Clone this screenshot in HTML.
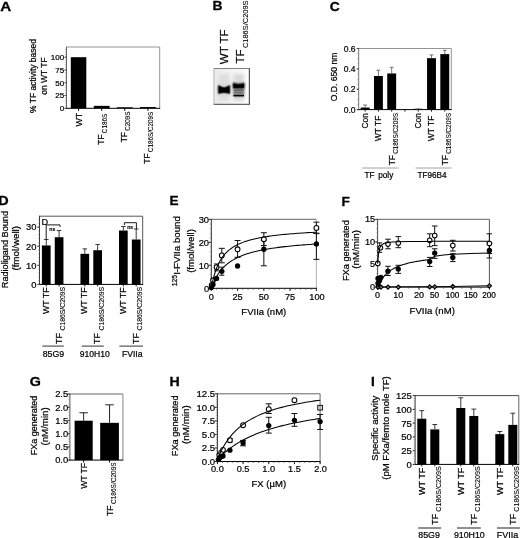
<!DOCTYPE html>
<html><head><meta charset="utf-8"><title>Figure</title>
<style>html,body{margin:0;padding:0;background:#fff;overflow:hidden}svg{display:block}svg text{font-family:"Liberation Sans",sans-serif}</style>
</head><body>
<svg width="520" height="538" viewBox="0 0 520 538" font-family="'Liberation Sans', sans-serif">
<rect width="520" height="538" fill="#fff"/>
<text transform="translate(0.20,10.60) scale(1.12,1)" font-size="13.6" font-weight="bold" fill="#000" stroke="#000" stroke-width="0.3">A</text>
<text transform="translate(212.60,10.00) scale(1.02,1)" font-size="13.6" font-weight="bold" fill="#000" stroke="#000" stroke-width="0.3">B</text>
<text transform="translate(329.80,10.60) scale(1.02,1)" font-size="13.6" font-weight="bold" fill="#000" stroke="#000" stroke-width="0.3">C</text>
<text transform="translate(-1.80,204.90) scale(1.06,1)" font-size="13.6" font-weight="bold" fill="#000" stroke="#000" stroke-width="0.3">D</text>
<text transform="translate(169.40,205.10) scale(1.0,1)" font-size="13.6" font-weight="bold" fill="#000" stroke="#000" stroke-width="0.3">E</text>
<text transform="translate(341.60,205.50) scale(1.0,1)" font-size="13.6" font-weight="bold" fill="#000" stroke="#000" stroke-width="0.3">F</text>
<text transform="translate(29.80,385.90) scale(1.05,1)" font-size="13.6" font-weight="bold" fill="#000" stroke="#000" stroke-width="0.3">G</text>
<text transform="translate(169.60,385.90) scale(1.04,1)" font-size="13.6" font-weight="bold" fill="#000" stroke="#000" stroke-width="0.3">H</text>
<text transform="translate(371.00,385.50) scale(1.0,1)" font-size="13.6" font-weight="bold" fill="#000" stroke="#000" stroke-width="0.3">I</text>
<line x1="66.50" y1="47.00" x2="159.70" y2="47.00" stroke="#888" stroke-width="0.9" />
<line x1="159.70" y1="47.00" x2="159.70" y2="108.30" stroke="#888" stroke-width="0.9" />
<line x1="66.50" y1="46.55" x2="66.50" y2="108.80" stroke="#555" stroke-width="0.9" />
<line x1="66.05" y1="108.30" x2="160.15" y2="108.30" stroke="#000" stroke-width="1.0" />
<line x1="64.50" y1="108.30" x2="66.50" y2="108.30" stroke="#222" stroke-width="1" />
<text x="64.20" y="111.18" font-size="8" text-anchor="end" font-weight="normal" fill="#000" stroke="#000" stroke-width="0.22">0</text>
<line x1="64.50" y1="95.53" x2="66.50" y2="95.53" stroke="#222" stroke-width="1" />
<text x="64.20" y="98.41" font-size="8" text-anchor="end" font-weight="normal" fill="#000" stroke="#000" stroke-width="0.22">25</text>
<line x1="64.50" y1="82.75" x2="66.50" y2="82.75" stroke="#222" stroke-width="1" />
<text x="64.20" y="85.63" font-size="8" text-anchor="end" font-weight="normal" fill="#000" stroke="#000" stroke-width="0.22">50</text>
<line x1="64.50" y1="69.97" x2="66.50" y2="69.97" stroke="#222" stroke-width="1" />
<text x="64.20" y="72.85" font-size="8" text-anchor="end" font-weight="normal" fill="#000" stroke="#000" stroke-width="0.22">75</text>
<line x1="64.50" y1="57.20" x2="66.50" y2="57.20" stroke="#222" stroke-width="1" />
<text x="64.20" y="60.08" font-size="8" text-anchor="end" font-weight="normal" fill="#000" stroke="#000" stroke-width="0.22">100</text>
<line x1="65.10" y1="108.30" x2="66.50" y2="108.30" stroke="#777" stroke-width="0.6" />
<line x1="65.10" y1="105.75" x2="66.50" y2="105.75" stroke="#777" stroke-width="0.6" />
<line x1="65.10" y1="103.19" x2="66.50" y2="103.19" stroke="#777" stroke-width="0.6" />
<line x1="65.10" y1="100.64" x2="66.50" y2="100.64" stroke="#777" stroke-width="0.6" />
<line x1="65.10" y1="98.08" x2="66.50" y2="98.08" stroke="#777" stroke-width="0.6" />
<line x1="65.10" y1="95.53" x2="66.50" y2="95.53" stroke="#777" stroke-width="0.6" />
<line x1="65.10" y1="92.97" x2="66.50" y2="92.97" stroke="#777" stroke-width="0.6" />
<line x1="65.10" y1="90.41" x2="66.50" y2="90.41" stroke="#777" stroke-width="0.6" />
<line x1="65.10" y1="87.86" x2="66.50" y2="87.86" stroke="#777" stroke-width="0.6" />
<line x1="65.10" y1="85.31" x2="66.50" y2="85.31" stroke="#777" stroke-width="0.6" />
<line x1="65.10" y1="82.75" x2="66.50" y2="82.75" stroke="#777" stroke-width="0.6" />
<line x1="65.10" y1="80.20" x2="66.50" y2="80.20" stroke="#777" stroke-width="0.6" />
<line x1="65.10" y1="77.64" x2="66.50" y2="77.64" stroke="#777" stroke-width="0.6" />
<line x1="65.10" y1="75.09" x2="66.50" y2="75.09" stroke="#777" stroke-width="0.6" />
<line x1="65.10" y1="72.53" x2="66.50" y2="72.53" stroke="#777" stroke-width="0.6" />
<line x1="65.10" y1="69.97" x2="66.50" y2="69.97" stroke="#777" stroke-width="0.6" />
<line x1="65.10" y1="67.42" x2="66.50" y2="67.42" stroke="#777" stroke-width="0.6" />
<line x1="65.10" y1="64.87" x2="66.50" y2="64.87" stroke="#777" stroke-width="0.6" />
<line x1="65.10" y1="62.31" x2="66.50" y2="62.31" stroke="#777" stroke-width="0.6" />
<line x1="65.10" y1="59.76" x2="66.50" y2="59.76" stroke="#777" stroke-width="0.6" />
<line x1="65.10" y1="57.20" x2="66.50" y2="57.20" stroke="#777" stroke-width="0.6" />
<line x1="65.10" y1="54.65" x2="66.50" y2="54.65" stroke="#777" stroke-width="0.6" />
<line x1="65.10" y1="52.09" x2="66.50" y2="52.09" stroke="#777" stroke-width="0.6" />
<line x1="65.10" y1="49.54" x2="66.50" y2="49.54" stroke="#777" stroke-width="0.6" />
<rect x="70.80" y="57.20" width="15.50" height="51.10" fill="#000" />
<line x1="78.55" y1="108.30" x2="78.55" y2="110.80" stroke="#000" stroke-width="1" />
<rect x="93.80" y="105.85" width="15.80" height="2.45" fill="#000" />
<line x1="101.70" y1="108.30" x2="101.70" y2="110.80" stroke="#000" stroke-width="1" />
<rect x="116.80" y="107.30" width="15.90" height="1.00" fill="#000" />
<line x1="124.75" y1="108.30" x2="124.75" y2="110.80" stroke="#000" stroke-width="1" />
<rect x="140.00" y="107.07" width="15.80" height="1.23" fill="#000" />
<line x1="147.90" y1="108.30" x2="147.90" y2="110.80" stroke="#000" stroke-width="1" />
<text transform="translate(81.50,112.80) rotate(-90)" font-size="8.8" text-anchor="end" fill="#000" stroke="#000" stroke-width="0.22">WT</text>
<text transform="translate(104.40,113.90) rotate(-90)" font-size="8.5" text-anchor="end" fill="#000" stroke="#000" stroke-width="0.22">TF<tspan font-size="6.3" dy="2.8" dx="1.2" stroke-width="0.1">C186S</tspan></text>
<text transform="translate(127.30,111.50) rotate(-90)" font-size="8.5" text-anchor="end" fill="#000" stroke="#000" stroke-width="0.22">TF<tspan font-size="6.3" dy="2.8" dx="1.2" stroke-width="0.1">C209S</tspan></text>
<text transform="translate(150.40,111.80) rotate(-90)" font-size="8.5" text-anchor="end" fill="#000" stroke="#000" stroke-width="0.22">TF<tspan font-size="6.3" dy="2.8" dx="1.2" stroke-width="0.1">C186S/C209S</tspan></text>
<text transform="translate(36.30,76.00) rotate(-90)" font-size="8.5" text-anchor="middle" fill="#000" stroke="#000" stroke-width="0.22">% TF activity based</text>
<text transform="translate(46.60,76.00) rotate(-90)" font-size="8.5" text-anchor="middle" fill="#000" stroke="#000" stroke-width="0.22">on WT TF</text>
<text transform="translate(227.70,64.30) rotate(-90)" font-size="11.6" text-anchor="start" fill="#000" stroke="#000" stroke-width="0.22">WT TF</text>
<text transform="translate(244.10,63.50) rotate(-90)" font-size="11.6" text-anchor="start" fill="#000" stroke="#000" stroke-width="0.22">TF<tspan font-size="7.45" dy="3.7" dx="1.3" stroke-width="0.1">C186S/C209S</tspan></text>
<defs>
<filter id="b1" x="-30%" y="-30%" width="160%" height="160%"><feGaussianBlur stdDeviation="0.9"/></filter>
<filter id="b2" x="-30%" y="-30%" width="160%" height="160%"><feGaussianBlur stdDeviation="0.6"/></filter>
<filter id="b3" x="-30%" y="-30%" width="160%" height="160%"><feGaussianBlur stdDeviation="1.6"/></filter>
<linearGradient id="gel" x1="0" x2="1" y1="0" y2="0"><stop offset="0" stop-color="#e9e9e9"/><stop offset="0.5" stop-color="#f3f3f3"/><stop offset="1" stop-color="#fcfcfc"/></linearGradient>
<clipPath id="gelc"><rect x="213.7" y="68.5" width="35.7" height="36"/></clipPath>
</defs>
<rect x="213.70" y="68.50" width="35.70" height="36.00" fill="url(#gel)" />
<g clip-path="url(#gelc)">
<rect x="219" y="74" width="10.5" height="27" fill="#dedede" filter="url(#b3)"/>
<rect x="233.5" y="74" width="10.5" height="27" fill="#dadada" filter="url(#b3)"/>
<path d="M218.2,84.8 Q224,90.6 229.9,84.8 L229.9,94 Q224,90.8 218.2,94 Z" fill="#000" filter="url(#b1)"/>
<path d="M218.6,85.6 Q224,89.8 229.6,85.6 L229.6,93.4 Q224,91.6 218.6,93.4 Z" fill="#000" filter="url(#b2)"/>
<rect x="233.2" y="83.4" width="11" height="13" fill="#8a8a8a" filter="url(#b1)"/>
<path d="M233,82.6 Q238.6,86 244.3,82.6 L244.3,88.2 L233,88.2 Z" fill="#000" filter="url(#b1)"/>
<path d="M233.4,83.4 Q238.6,85.6 244,83.4 L244,87.8 L233.4,87.8 Z" fill="#000" filter="url(#b2)"/>
<rect x="233.8" y="89.8" width="10" height="1.0" fill="#5a5a5a" filter="url(#b2)"/>
<rect x="233.8" y="92.2" width="10" height="0.9" fill="#6a6a6a" filter="url(#b2)"/>
<rect x="233.4" y="94.8" width="10.6" height="1.6" fill="#000" filter="url(#b2)"/>
</g>
<line x1="213.70" y1="68.50" x2="249.60" y2="68.50" stroke="#808080" stroke-width="1.2" />
<line x1="249.40" y1="68.20" x2="249.40" y2="104.80" stroke="#555" stroke-width="1.2" />
<line x1="213.70" y1="104.40" x2="249.60" y2="104.40" stroke="#666" stroke-width="1.2" />
<line x1="213.90" y1="68.50" x2="213.90" y2="104.40" stroke="#bbb" stroke-width="1" />
<line x1="358.70" y1="48.50" x2="451.30" y2="48.50" stroke="#888" stroke-width="0.9" />
<line x1="451.30" y1="48.50" x2="451.30" y2="109.60" stroke="#888" stroke-width="0.9" />
<line x1="358.70" y1="48.05" x2="358.70" y2="110.10" stroke="#666" stroke-width="0.9" />
<line x1="358.25" y1="109.60" x2="451.75" y2="109.60" stroke="#000" stroke-width="1.0" />
<line x1="356.70" y1="109.60" x2="358.70" y2="109.60" stroke="#222" stroke-width="1" />
<text x="355.60" y="112.66" font-size="8.5" text-anchor="end" font-weight="normal" fill="#000" stroke="#000" stroke-width="0.22">0.0</text>
<line x1="356.70" y1="89.23" x2="358.70" y2="89.23" stroke="#222" stroke-width="1" />
<text x="355.60" y="92.29" font-size="8.5" text-anchor="end" font-weight="normal" fill="#000" stroke="#000" stroke-width="0.22">0.2</text>
<line x1="356.70" y1="68.87" x2="358.70" y2="68.87" stroke="#222" stroke-width="1" />
<text x="355.60" y="71.93" font-size="8.5" text-anchor="end" font-weight="normal" fill="#000" stroke="#000" stroke-width="0.22">0.4</text>
<line x1="356.70" y1="48.50" x2="358.70" y2="48.50" stroke="#222" stroke-width="1" />
<text x="355.60" y="51.56" font-size="8.5" text-anchor="end" font-weight="normal" fill="#000" stroke="#000" stroke-width="0.22">0.6</text>
<line x1="357.30" y1="109.60" x2="358.70" y2="109.60" stroke="#777" stroke-width="0.6" />
<line x1="357.30" y1="104.51" x2="358.70" y2="104.51" stroke="#777" stroke-width="0.6" />
<line x1="357.30" y1="99.42" x2="358.70" y2="99.42" stroke="#777" stroke-width="0.6" />
<line x1="357.30" y1="94.32" x2="358.70" y2="94.32" stroke="#777" stroke-width="0.6" />
<line x1="357.30" y1="89.23" x2="358.70" y2="89.23" stroke="#777" stroke-width="0.6" />
<line x1="357.30" y1="84.14" x2="358.70" y2="84.14" stroke="#777" stroke-width="0.6" />
<line x1="357.30" y1="79.05" x2="358.70" y2="79.05" stroke="#777" stroke-width="0.6" />
<line x1="357.30" y1="73.96" x2="358.70" y2="73.96" stroke="#777" stroke-width="0.6" />
<line x1="357.30" y1="68.87" x2="358.70" y2="68.87" stroke="#777" stroke-width="0.6" />
<line x1="357.30" y1="63.77" x2="358.70" y2="63.77" stroke="#777" stroke-width="0.6" />
<line x1="357.30" y1="58.68" x2="358.70" y2="58.68" stroke="#777" stroke-width="0.6" />
<line x1="357.30" y1="53.59" x2="358.70" y2="53.59" stroke="#777" stroke-width="0.6" />
<line x1="357.30" y1="48.50" x2="358.70" y2="48.50" stroke="#777" stroke-width="0.6" />
<rect x="360.70" y="107.56" width="8.90" height="2.04" fill="#000" />
<line x1="365.15" y1="105.02" x2="365.15" y2="107.56" stroke="#555" stroke-width="0.8" />
<line x1="363.15" y1="105.02" x2="367.15" y2="105.02" stroke="#555" stroke-width="0.8" />
<rect x="373.97" y="76.00" width="8.90" height="33.60" fill="#000" />
<line x1="378.42" y1="70.19" x2="378.42" y2="76.00" stroke="#555" stroke-width="0.8" />
<line x1="376.42" y1="70.19" x2="380.42" y2="70.19" stroke="#555" stroke-width="0.8" />
<rect x="387.24" y="73.45" width="8.90" height="36.15" fill="#000" />
<line x1="391.69" y1="67.34" x2="391.69" y2="73.45" stroke="#555" stroke-width="0.8" />
<line x1="389.69" y1="67.34" x2="393.69" y2="67.34" stroke="#555" stroke-width="0.8" />
<rect x="413.78" y="108.80" width="8.90" height="0.80" fill="#000" />
<line x1="418.23" y1="108.99" x2="418.23" y2="108.80" stroke="#555" stroke-width="0.8" />
<line x1="416.23" y1="108.99" x2="420.23" y2="108.99" stroke="#555" stroke-width="0.8" />
<rect x="427.05" y="58.17" width="8.90" height="51.43" fill="#000" />
<line x1="431.50" y1="54.92" x2="431.50" y2="58.17" stroke="#555" stroke-width="0.8" />
<line x1="429.50" y1="54.92" x2="433.50" y2="54.92" stroke="#555" stroke-width="0.8" />
<rect x="440.32" y="54.10" width="8.90" height="55.50" fill="#000" />
<line x1="444.77" y1="50.33" x2="444.77" y2="54.10" stroke="#555" stroke-width="0.8" />
<line x1="442.77" y1="50.33" x2="446.77" y2="50.33" stroke="#555" stroke-width="0.8" />
<line x1="365.15" y1="109.60" x2="365.15" y2="111.60" stroke="#000" stroke-width="0.9" />
<line x1="378.42" y1="109.60" x2="378.42" y2="111.60" stroke="#000" stroke-width="0.9" />
<line x1="391.69" y1="109.60" x2="391.69" y2="111.60" stroke="#000" stroke-width="0.9" />
<line x1="404.96" y1="109.60" x2="404.96" y2="111.60" stroke="#000" stroke-width="0.9" />
<line x1="418.23" y1="109.60" x2="418.23" y2="111.60" stroke="#000" stroke-width="0.9" />
<line x1="431.50" y1="109.60" x2="431.50" y2="111.60" stroke="#000" stroke-width="0.9" />
<line x1="444.77" y1="109.60" x2="444.77" y2="111.60" stroke="#000" stroke-width="0.9" />
<text transform="translate(368.25,113.20) rotate(-90)" font-size="8.3" text-anchor="end" fill="#000" stroke="#000" stroke-width="0.22">Con</text>
<text transform="translate(381.12,115.60) rotate(-90)" font-size="8.5" text-anchor="end" fill="#000" stroke="#000" stroke-width="0.22">WT TF</text>
<text transform="translate(394.89,113.00) rotate(-90)" font-size="8.4" text-anchor="end" fill="#000" stroke="#000" stroke-width="0.22">TF<tspan font-size="6.4" dy="3.0" dx="1.2" stroke-width="0.1">C186S/C209S</tspan></text>
<text transform="translate(421.33,113.20) rotate(-90)" font-size="8.3" text-anchor="end" fill="#000" stroke="#000" stroke-width="0.22">Con</text>
<text transform="translate(434.20,115.60) rotate(-90)" font-size="8.5" text-anchor="end" fill="#000" stroke="#000" stroke-width="0.22">WT TF</text>
<text transform="translate(447.97,113.00) rotate(-90)" font-size="8.4" text-anchor="end" fill="#000" stroke="#000" stroke-width="0.22">TF<tspan font-size="6.4" dy="3.0" dx="1.2" stroke-width="0.1">C186S/C209S</tspan></text>
<line x1="362.30" y1="168.00" x2="398.70" y2="168.00" stroke="#888" stroke-width="0.8" />
<line x1="415.60" y1="168.00" x2="451.50" y2="168.00" stroke="#888" stroke-width="0.8" />
<text x="364.60" y="177.60" font-size="8.2" text-anchor="start" font-weight="normal" fill="#000" stroke="#000" stroke-width="0.22">TF<tspan dx="3.6">poly</tspan></text>
<text x="432.00" y="177.60" font-size="8.2" text-anchor="middle" font-weight="normal" fill="#000" stroke="#000" stroke-width="0.22">TF96B4</text>
<text transform="translate(336.90,77.00) rotate(-90)" font-size="8.6" text-anchor="middle" fill="#000" stroke="#000" stroke-width="0.22">O.D. 650 nm</text>
<line x1="39.50" y1="216.20" x2="142.70" y2="216.20" stroke="#444" stroke-width="0.9" />
<line x1="142.70" y1="216.20" x2="142.70" y2="284.40" stroke="#444" stroke-width="0.9" />
<line x1="39.50" y1="215.75" x2="39.50" y2="284.90" stroke="#222" stroke-width="0.9" />
<line x1="39.05" y1="284.40" x2="143.15" y2="284.40" stroke="#000" stroke-width="1.0" />
<line x1="37.30" y1="284.40" x2="39.50" y2="284.40" stroke="#222" stroke-width="1" />
<text x="36.50" y="287.78" font-size="9.4" text-anchor="end" font-weight="normal" fill="#000" stroke="#000" stroke-width="0.22">0</text>
<line x1="37.30" y1="265.30" x2="39.50" y2="265.30" stroke="#222" stroke-width="1" />
<text x="36.50" y="268.68" font-size="9.4" text-anchor="end" font-weight="normal" fill="#000" stroke="#000" stroke-width="0.22">10</text>
<line x1="37.30" y1="246.20" x2="39.50" y2="246.20" stroke="#222" stroke-width="1" />
<text x="36.50" y="249.58" font-size="9.4" text-anchor="end" font-weight="normal" fill="#000" stroke="#000" stroke-width="0.22">20</text>
<line x1="37.30" y1="227.10" x2="39.50" y2="227.10" stroke="#222" stroke-width="1" />
<text x="36.50" y="230.48" font-size="9.4" text-anchor="end" font-weight="normal" fill="#000" stroke="#000" stroke-width="0.22">30</text>
<line x1="38.10" y1="284.40" x2="39.50" y2="284.40" stroke="#777" stroke-width="0.6" />
<line x1="38.10" y1="280.58" x2="39.50" y2="280.58" stroke="#777" stroke-width="0.6" />
<line x1="38.10" y1="276.76" x2="39.50" y2="276.76" stroke="#777" stroke-width="0.6" />
<line x1="38.10" y1="272.94" x2="39.50" y2="272.94" stroke="#777" stroke-width="0.6" />
<line x1="38.10" y1="269.12" x2="39.50" y2="269.12" stroke="#777" stroke-width="0.6" />
<line x1="38.10" y1="265.30" x2="39.50" y2="265.30" stroke="#777" stroke-width="0.6" />
<line x1="38.10" y1="261.48" x2="39.50" y2="261.48" stroke="#777" stroke-width="0.6" />
<line x1="38.10" y1="257.66" x2="39.50" y2="257.66" stroke="#777" stroke-width="0.6" />
<line x1="38.10" y1="253.84" x2="39.50" y2="253.84" stroke="#777" stroke-width="0.6" />
<line x1="38.10" y1="250.02" x2="39.50" y2="250.02" stroke="#777" stroke-width="0.6" />
<line x1="38.10" y1="246.20" x2="39.50" y2="246.20" stroke="#777" stroke-width="0.6" />
<line x1="38.10" y1="242.38" x2="39.50" y2="242.38" stroke="#777" stroke-width="0.6" />
<line x1="38.10" y1="238.56" x2="39.50" y2="238.56" stroke="#777" stroke-width="0.6" />
<line x1="38.10" y1="234.74" x2="39.50" y2="234.74" stroke="#777" stroke-width="0.6" />
<line x1="38.10" y1="230.92" x2="39.50" y2="230.92" stroke="#777" stroke-width="0.6" />
<line x1="38.10" y1="227.10" x2="39.50" y2="227.10" stroke="#777" stroke-width="0.6" />
<line x1="38.10" y1="223.28" x2="39.50" y2="223.28" stroke="#777" stroke-width="0.6" />
<line x1="38.10" y1="219.46" x2="39.50" y2="219.46" stroke="#777" stroke-width="0.6" />
<rect x="41.90" y="245.44" width="8.70" height="38.96" fill="#000" />
<line x1="46.25" y1="239.51" x2="46.25" y2="245.44" stroke="#222" stroke-width="0.9" />
<line x1="43.95" y1="239.51" x2="48.55" y2="239.51" stroke="#222" stroke-width="0.9" />
<line x1="46.25" y1="284.40" x2="46.25" y2="286.40" stroke="#000" stroke-width="0.9" />
<rect x="54.75" y="237.22" width="8.70" height="47.18" fill="#000" />
<line x1="59.10" y1="230.54" x2="59.10" y2="237.22" stroke="#222" stroke-width="0.9" />
<line x1="56.80" y1="230.54" x2="61.40" y2="230.54" stroke="#222" stroke-width="0.9" />
<line x1="59.10" y1="284.40" x2="59.10" y2="286.40" stroke="#000" stroke-width="0.9" />
<rect x="80.45" y="253.84" width="8.70" height="30.56" fill="#000" />
<line x1="84.80" y1="248.87" x2="84.80" y2="253.84" stroke="#222" stroke-width="0.9" />
<line x1="82.50" y1="248.87" x2="87.10" y2="248.87" stroke="#222" stroke-width="0.9" />
<line x1="84.80" y1="284.40" x2="84.80" y2="286.40" stroke="#000" stroke-width="0.9" />
<rect x="93.30" y="250.21" width="8.70" height="34.19" fill="#000" />
<line x1="97.65" y1="244.48" x2="97.65" y2="250.21" stroke="#222" stroke-width="0.9" />
<line x1="95.35" y1="244.48" x2="99.95" y2="244.48" stroke="#222" stroke-width="0.9" />
<line x1="97.65" y1="284.40" x2="97.65" y2="286.40" stroke="#000" stroke-width="0.9" />
<rect x="119.00" y="230.54" width="8.70" height="53.86" fill="#000" />
<line x1="123.35" y1="226.53" x2="123.35" y2="230.54" stroke="#222" stroke-width="0.9" />
<line x1="121.05" y1="226.53" x2="125.65" y2="226.53" stroke="#222" stroke-width="0.9" />
<line x1="123.35" y1="284.40" x2="123.35" y2="286.40" stroke="#000" stroke-width="0.9" />
<rect x="131.85" y="239.51" width="8.70" height="44.89" fill="#000" />
<line x1="136.20" y1="229.01" x2="136.20" y2="239.51" stroke="#222" stroke-width="0.9" />
<line x1="133.90" y1="229.01" x2="138.50" y2="229.01" stroke="#222" stroke-width="0.9" />
<line x1="136.20" y1="284.40" x2="136.20" y2="286.40" stroke="#000" stroke-width="0.9" />
<text transform="translate(48.65,287.40) rotate(-90)" font-size="8.8" text-anchor="end" fill="#000" stroke="#000" stroke-width="0.22">WT TF</text>
<text transform="translate(61.50,286.80) rotate(-90)" font-size="8.8" text-anchor="end" fill="#000" stroke="#000" stroke-width="0.22">TF<tspan font-size="6.85" dy="3.7" dx="2.6" stroke-width="0.1">C186S/C209S</tspan></text>
<text transform="translate(87.20,287.40) rotate(-90)" font-size="8.8" text-anchor="end" fill="#000" stroke="#000" stroke-width="0.22">WT TF</text>
<text transform="translate(100.05,286.80) rotate(-90)" font-size="8.8" text-anchor="end" fill="#000" stroke="#000" stroke-width="0.22">TF<tspan font-size="6.85" dy="3.7" dx="2.6" stroke-width="0.1">C186S/C209S</tspan></text>
<text transform="translate(125.75,287.40) rotate(-90)" font-size="8.8" text-anchor="end" fill="#000" stroke="#000" stroke-width="0.22">WT TF</text>
<text transform="translate(138.60,286.80) rotate(-90)" font-size="8.8" text-anchor="end" fill="#000" stroke="#000" stroke-width="0.22">TF<tspan font-size="6.85" dy="3.7" dx="2.6" stroke-width="0.1">C186S/C209S</tspan></text>
<text x="41.60" y="224.90" font-size="9.2" text-anchor="start" font-weight="normal" fill="#000" stroke="#000" stroke-width="0.22">D</text>
<line x1="46.20" y1="224.90" x2="46.20" y2="239.00" stroke="#000" stroke-width="0.9" />
<line x1="46.20" y1="224.90" x2="60.00" y2="224.90" stroke="#000" stroke-width="0.9" />
<line x1="60.00" y1="224.90" x2="60.00" y2="227.00" stroke="#000" stroke-width="0.9" />
<text x="49.30" y="231.20" font-size="5.6" text-anchor="start" font-weight="normal" fill="#000" stroke="#000" stroke-width="0.22">ns</text>
<line x1="124.40" y1="222.70" x2="136.40" y2="222.70" stroke="#000" stroke-width="0.9" />
<line x1="136.40" y1="222.70" x2="136.40" y2="229.00" stroke="#000" stroke-width="0.9" />
<line x1="124.40" y1="222.70" x2="124.40" y2="225.00" stroke="#000" stroke-width="0.9" />
<text x="127.20" y="228.60" font-size="5.6" text-anchor="start" font-weight="normal" fill="#000" stroke="#000" stroke-width="0.22">ns</text>
<line x1="42.40" y1="346.10" x2="63.80" y2="346.10" stroke="#444" stroke-width="1.1" />
<line x1="81.60" y1="346.10" x2="103.80" y2="346.10" stroke="#444" stroke-width="1.1" />
<line x1="119.40" y1="346.10" x2="143.00" y2="346.10" stroke="#444" stroke-width="1.1" />
<text x="53.40" y="357.30" font-size="8.8" text-anchor="middle" font-weight="normal" fill="#000" stroke="#000" stroke-width="0.22">85G9</text>
<text x="94.80" y="357.30" font-size="8.6" text-anchor="middle" font-weight="normal" fill="#000" stroke="#000" stroke-width="0.22">910H10</text>
<text x="132.20" y="357.30" font-size="8.6" text-anchor="middle" font-weight="normal" fill="#000" stroke="#000" stroke-width="0.22">FVIIa</text>
<text transform="translate(7.80,249.60) rotate(-90)" font-size="9.15" text-anchor="middle" fill="#000" stroke="#000" stroke-width="0.22">Radioligand Bound</text>
<text transform="translate(18.80,248.30) rotate(-90)" font-size="9.8" text-anchor="middle" fill="#000" stroke="#000" stroke-width="0.22">(fmol/well)</text>
<line x1="211.30" y1="219.40" x2="316.40" y2="219.40" stroke="#808080" stroke-width="1.3" />
<line x1="316.40" y1="219.40" x2="316.40" y2="288.30" stroke="#aaa" stroke-width="0.9" />
<line x1="211.30" y1="218.95" x2="211.30" y2="288.80" stroke="#111" stroke-width="0.9" />
<line x1="210.85" y1="288.30" x2="316.85" y2="288.30" stroke="#000" stroke-width="1.0" />
<line x1="208.90" y1="288.30" x2="211.30" y2="288.30" stroke="#222" stroke-width="1" />
<text x="209.10" y="291.68" font-size="9.4" text-anchor="end" font-weight="normal" fill="#000" stroke="#000" stroke-width="0.22">0</text>
<line x1="208.90" y1="265.33" x2="211.30" y2="265.33" stroke="#222" stroke-width="1" />
<text x="209.10" y="268.72" font-size="9.4" text-anchor="end" font-weight="normal" fill="#000" stroke="#000" stroke-width="0.22">10</text>
<line x1="208.90" y1="242.37" x2="211.30" y2="242.37" stroke="#222" stroke-width="1" />
<text x="209.10" y="245.75" font-size="9.4" text-anchor="end" font-weight="normal" fill="#000" stroke="#000" stroke-width="0.22">20</text>
<line x1="208.90" y1="219.40" x2="211.30" y2="219.40" stroke="#222" stroke-width="1" />
<text x="209.10" y="222.78" font-size="9.4" text-anchor="end" font-weight="normal" fill="#000" stroke="#000" stroke-width="0.22">30</text>
<line x1="209.90" y1="288.30" x2="211.30" y2="288.30" stroke="#777" stroke-width="0.6" />
<line x1="209.90" y1="283.71" x2="211.30" y2="283.71" stroke="#777" stroke-width="0.6" />
<line x1="209.90" y1="279.11" x2="211.30" y2="279.11" stroke="#777" stroke-width="0.6" />
<line x1="209.90" y1="274.52" x2="211.30" y2="274.52" stroke="#777" stroke-width="0.6" />
<line x1="209.90" y1="269.93" x2="211.30" y2="269.93" stroke="#777" stroke-width="0.6" />
<line x1="209.90" y1="265.33" x2="211.30" y2="265.33" stroke="#777" stroke-width="0.6" />
<line x1="209.90" y1="260.74" x2="211.30" y2="260.74" stroke="#777" stroke-width="0.6" />
<line x1="209.90" y1="256.15" x2="211.30" y2="256.15" stroke="#777" stroke-width="0.6" />
<line x1="209.90" y1="251.55" x2="211.30" y2="251.55" stroke="#777" stroke-width="0.6" />
<line x1="209.90" y1="246.96" x2="211.30" y2="246.96" stroke="#777" stroke-width="0.6" />
<line x1="209.90" y1="242.37" x2="211.30" y2="242.37" stroke="#777" stroke-width="0.6" />
<line x1="209.90" y1="237.77" x2="211.30" y2="237.77" stroke="#777" stroke-width="0.6" />
<line x1="209.90" y1="233.18" x2="211.30" y2="233.18" stroke="#777" stroke-width="0.6" />
<line x1="209.90" y1="228.59" x2="211.30" y2="228.59" stroke="#777" stroke-width="0.6" />
<line x1="209.90" y1="223.99" x2="211.30" y2="223.99" stroke="#777" stroke-width="0.6" />
<line x1="209.90" y1="219.40" x2="211.30" y2="219.40" stroke="#777" stroke-width="0.6" />
<line x1="211.30" y1="288.30" x2="211.30" y2="290.90" stroke="#111" stroke-width="1" />
<text x="211.30" y="299.60" font-size="9.2" text-anchor="middle" font-weight="normal" fill="#000" stroke="#000" stroke-width="0.22">0</text>
<line x1="237.57" y1="288.30" x2="237.57" y2="290.90" stroke="#111" stroke-width="1" />
<text x="237.57" y="299.60" font-size="9.2" text-anchor="middle" font-weight="normal" fill="#000" stroke="#000" stroke-width="0.22">25</text>
<line x1="263.85" y1="288.30" x2="263.85" y2="290.90" stroke="#111" stroke-width="1" />
<text x="263.85" y="299.60" font-size="9.2" text-anchor="middle" font-weight="normal" fill="#000" stroke="#000" stroke-width="0.22">50</text>
<line x1="290.12" y1="288.30" x2="290.12" y2="290.90" stroke="#111" stroke-width="1" />
<text x="290.12" y="299.60" font-size="9.2" text-anchor="middle" font-weight="normal" fill="#000" stroke="#000" stroke-width="0.22">75</text>
<line x1="316.40" y1="288.30" x2="316.40" y2="290.90" stroke="#111" stroke-width="1" />
<text x="317.00" y="299.60" font-size="9.2" text-anchor="middle" font-weight="normal" fill="#000" stroke="#000" stroke-width="0.22">100</text>
<line x1="211.30" y1="288.30" x2="211.30" y2="289.80" stroke="#444" stroke-width="0.7" />
<line x1="216.56" y1="288.30" x2="216.56" y2="289.80" stroke="#444" stroke-width="0.7" />
<line x1="221.81" y1="288.30" x2="221.81" y2="289.80" stroke="#444" stroke-width="0.7" />
<line x1="227.06" y1="288.30" x2="227.06" y2="289.80" stroke="#444" stroke-width="0.7" />
<line x1="232.32" y1="288.30" x2="232.32" y2="289.80" stroke="#444" stroke-width="0.7" />
<line x1="237.57" y1="288.30" x2="237.57" y2="289.80" stroke="#444" stroke-width="0.7" />
<line x1="242.83" y1="288.30" x2="242.83" y2="289.80" stroke="#444" stroke-width="0.7" />
<line x1="248.09" y1="288.30" x2="248.09" y2="289.80" stroke="#444" stroke-width="0.7" />
<line x1="253.34" y1="288.30" x2="253.34" y2="289.80" stroke="#444" stroke-width="0.7" />
<line x1="258.60" y1="288.30" x2="258.60" y2="289.80" stroke="#444" stroke-width="0.7" />
<line x1="263.85" y1="288.30" x2="263.85" y2="289.80" stroke="#444" stroke-width="0.7" />
<line x1="269.11" y1="288.30" x2="269.11" y2="289.80" stroke="#444" stroke-width="0.7" />
<line x1="274.36" y1="288.30" x2="274.36" y2="289.80" stroke="#444" stroke-width="0.7" />
<line x1="279.62" y1="288.30" x2="279.62" y2="289.80" stroke="#444" stroke-width="0.7" />
<line x1="284.87" y1="288.30" x2="284.87" y2="289.80" stroke="#444" stroke-width="0.7" />
<line x1="290.12" y1="288.30" x2="290.12" y2="289.80" stroke="#444" stroke-width="0.7" />
<line x1="295.38" y1="288.30" x2="295.38" y2="289.80" stroke="#444" stroke-width="0.7" />
<line x1="300.63" y1="288.30" x2="300.63" y2="289.80" stroke="#444" stroke-width="0.7" />
<line x1="305.89" y1="288.30" x2="305.89" y2="289.80" stroke="#444" stroke-width="0.7" />
<line x1="311.14" y1="288.30" x2="311.14" y2="289.80" stroke="#444" stroke-width="0.7" />
<line x1="316.40" y1="288.30" x2="316.40" y2="289.80" stroke="#444" stroke-width="0.7" />
<line x1="221.81" y1="248.34" x2="221.81" y2="262.81" stroke="#111" stroke-width="1.0" />
<line x1="218.81" y1="248.34" x2="224.81" y2="248.34" stroke="#111" stroke-width="1.0" />
<line x1="218.81" y1="262.81" x2="224.81" y2="262.81" stroke="#111" stroke-width="1.0" />
<line x1="237.57" y1="240.53" x2="237.57" y2="257.30" stroke="#111" stroke-width="1.0" />
<line x1="234.57" y1="240.53" x2="240.57" y2="240.53" stroke="#111" stroke-width="1.0" />
<line x1="234.57" y1="257.30" x2="240.57" y2="257.30" stroke="#111" stroke-width="1.0" />
<line x1="263.85" y1="232.72" x2="263.85" y2="245.58" stroke="#111" stroke-width="1.0" />
<line x1="260.85" y1="232.72" x2="266.85" y2="232.72" stroke="#111" stroke-width="1.0" />
<line x1="260.85" y1="245.58" x2="266.85" y2="245.58" stroke="#111" stroke-width="1.0" />
<line x1="316.40" y1="222.16" x2="316.40" y2="233.64" stroke="#111" stroke-width="1.0" />
<line x1="313.40" y1="222.16" x2="319.40" y2="222.16" stroke="#111" stroke-width="1.0" />
<line x1="313.40" y1="233.64" x2="319.40" y2="233.64" stroke="#111" stroke-width="1.0" />
<line x1="216.56" y1="263.96" x2="216.56" y2="270.85" stroke="#111" stroke-width="1.0" />
<line x1="214.06" y1="263.96" x2="219.06" y2="263.96" stroke="#111" stroke-width="1.0" />
<line x1="214.06" y1="270.85" x2="219.06" y2="270.85" stroke="#111" stroke-width="1.0" />
<line x1="263.85" y1="240.07" x2="263.85" y2="265.79" stroke="#111" stroke-width="1.0" />
<line x1="260.85" y1="240.07" x2="266.85" y2="240.07" stroke="#111" stroke-width="1.0" />
<line x1="260.85" y1="265.79" x2="266.85" y2="265.79" stroke="#111" stroke-width="1.0" />
<line x1="316.40" y1="233.18" x2="316.40" y2="259.36" stroke="#111" stroke-width="1.0" />
<line x1="313.40" y1="233.18" x2="319.40" y2="233.18" stroke="#111" stroke-width="1.0" />
<line x1="313.40" y1="259.36" x2="319.40" y2="259.36" stroke="#111" stroke-width="1.0" />
<line x1="221.81" y1="267.17" x2="221.81" y2="275.21" stroke="#111" stroke-width="1.0" />
<line x1="219.31" y1="267.17" x2="224.31" y2="267.17" stroke="#111" stroke-width="1.0" />
<line x1="219.31" y1="275.21" x2="224.31" y2="275.21" stroke="#111" stroke-width="1.0" />
<circle cx="211.72" cy="285.08" r="2.4" fill="#fff" stroke="#000" stroke-width="1.05"/>
<circle cx="213.09" cy="280.26" r="2.4" fill="#fff" stroke="#000" stroke-width="1.05"/>
<circle cx="216.56" cy="267.17" r="2.4" fill="#fff" stroke="#000" stroke-width="1.05"/>
<circle cx="221.81" cy="255.46" r="2.4" fill="#fff" stroke="#000" stroke-width="1.05"/>
<circle cx="237.57" cy="249.26" r="2.4" fill="#fff" stroke="#000" stroke-width="1.05"/>
<circle cx="263.85" cy="239.15" r="2.4" fill="#fff" stroke="#000" stroke-width="1.05"/>
<circle cx="316.40" cy="227.90" r="2.4" fill="#fff" stroke="#000" stroke-width="1.05"/>
<circle cx="211.30" cy="287.61" r="2.65" fill="#000"/>
<circle cx="212.98" cy="284.40" r="2.65" fill="#000"/>
<circle cx="216.56" cy="278.42" r="2.65" fill="#000"/>
<circle cx="221.81" cy="271.30" r="2.65" fill="#000"/>
<circle cx="237.57" cy="266.02" r="2.65" fill="#000"/>
<circle cx="263.85" cy="249.26" r="2.65" fill="#000"/>
<circle cx="316.40" cy="243.97" r="2.65" fill="#000"/>
<polyline points="211.30,288.30 211.83,285.48 212.35,282.91 212.88,280.55 213.40,278.38 213.93,276.38 214.45,274.52 214.98,272.80 215.50,271.19 216.03,269.70 216.56,268.30 217.08,266.98 217.61,265.75 218.13,264.59 218.66,263.50 219.18,262.46 219.71,261.48 220.23,260.56 220.76,259.68 221.28,258.85 221.81,258.05 222.34,257.30 222.86,256.57 223.39,255.89 223.91,255.23 224.44,254.60 224.96,254.00 225.49,253.42 226.01,252.87 226.54,252.33 227.06,251.82 227.59,251.33 228.12,250.86 228.64,250.41 229.17,249.97 229.69,249.54 230.22,249.14 230.74,248.74 231.27,248.36 231.79,247.99 232.32,247.64 234.42,246.32 236.52,245.16 238.63,244.13 240.73,243.20 242.83,242.37 244.93,241.61 247.03,240.92 249.14,240.29 251.24,239.71 253.34,239.18 255.44,238.69 257.54,238.24 259.65,237.81 261.75,237.42 263.85,237.05 265.95,236.71 268.05,236.38 270.16,236.08 272.26,235.80 274.36,235.53 276.46,235.27 278.56,235.03 280.67,234.80 282.77,234.58 284.87,234.38 286.97,234.18 289.07,234.00 291.18,233.82 293.28,233.65 295.38,233.48 297.48,233.33 299.58,233.18 301.69,233.04 303.79,232.90 305.89,232.77 307.99,232.64 310.09,232.52 312.20,232.40 314.30,232.29 316.40,232.18" fill="none" stroke="#000" stroke-width="1.05"/>
<polyline points="211.30,288.30 211.83,286.83 212.35,285.45 212.88,284.14 213.40,282.89 213.93,281.71 214.45,280.59 214.98,279.52 215.50,278.51 216.03,277.54 216.56,276.61 217.08,275.72 217.61,274.88 218.13,274.06 218.66,273.29 219.18,272.54 219.71,271.82 220.23,271.13 220.76,270.47 221.28,269.83 221.81,269.22 222.34,268.62 222.86,268.05 223.39,267.50 223.91,266.97 224.44,266.45 224.96,265.96 225.49,265.48 226.01,265.01 226.54,264.56 227.06,264.12 227.59,263.70 228.12,263.29 228.64,262.89 229.17,262.50 229.69,262.12 230.22,261.76 230.74,261.40 231.27,261.06 231.79,260.72 232.32,260.39 234.42,259.17 236.52,258.06 238.63,257.06 240.73,256.15 242.83,255.31 244.93,254.54 247.03,253.83 249.14,253.18 251.24,252.57 253.34,252.00 255.44,251.48 257.54,250.98 259.65,250.52 261.75,250.09 263.85,249.68 265.95,249.30 268.05,248.93 270.16,248.59 272.26,248.27 274.36,247.96 276.46,247.67 278.56,247.39 280.67,247.13 282.77,246.87 284.87,246.63 286.97,246.40 289.07,246.18 291.18,245.97 293.28,245.77 295.38,245.58 297.48,245.39 299.58,245.22 301.69,245.05 303.79,244.88 305.89,244.72 307.99,244.57 310.09,244.42 312.20,244.28 314.30,244.14 316.40,244.01" fill="none" stroke="#000" stroke-width="1.05"/>
<text x="263.80" y="314.60" font-size="9.5" text-anchor="middle" font-weight="normal" fill="#000" stroke="#000" stroke-width="0.22">FVIIa (nM)</text>
<text transform="translate(179.70,251.20) rotate(-90)" font-size="9.7" text-anchor="middle" fill="#000" stroke="#000" stroke-width="0.22"><tspan font-size="6.8" dy="-3.2">125</tspan><tspan dy="3.2">I-FVIIa bound</tspan></text>
<text transform="translate(193.60,251.00) rotate(-90)" font-size="9.6" text-anchor="middle" fill="#000" stroke="#000" stroke-width="0.22">(fmol/well)</text>
<line x1="377.60" y1="219.40" x2="489.40" y2="219.40" stroke="#808080" stroke-width="1.3" />
<line x1="489.40" y1="219.40" x2="489.40" y2="287.10" stroke="#444" stroke-width="0.9" />
<line x1="377.60" y1="218.95" x2="377.60" y2="287.60" stroke="#333" stroke-width="0.9" />
<line x1="377.15" y1="287.10" x2="489.85" y2="287.10" stroke="#000" stroke-width="1.0" />
<line x1="375.20" y1="287.10" x2="377.60" y2="287.10" stroke="#222" stroke-width="1" />
<text x="375.20" y="289.91" font-size="9.2" text-anchor="end" font-weight="normal" fill="#000" stroke="#000" stroke-width="0.22">0</text>
<line x1="375.20" y1="264.53" x2="377.60" y2="264.53" stroke="#222" stroke-width="1" />
<text x="375.20" y="267.35" font-size="9.2" text-anchor="end" font-weight="normal" fill="#000" stroke="#000" stroke-width="0.22">5</text>
<line x1="375.20" y1="241.97" x2="377.60" y2="241.97" stroke="#222" stroke-width="1" />
<text x="375.20" y="244.78" font-size="9.2" text-anchor="end" font-weight="normal" fill="#000" stroke="#000" stroke-width="0.22">10</text>
<line x1="375.20" y1="219.40" x2="377.60" y2="219.40" stroke="#222" stroke-width="1" />
<text x="375.20" y="222.21" font-size="9.2" text-anchor="end" font-weight="normal" fill="#000" stroke="#000" stroke-width="0.22">15</text>
<line x1="376.20" y1="287.10" x2="377.60" y2="287.10" stroke="#777" stroke-width="0.6" />
<line x1="376.20" y1="282.59" x2="377.60" y2="282.59" stroke="#777" stroke-width="0.6" />
<line x1="376.20" y1="278.07" x2="377.60" y2="278.07" stroke="#777" stroke-width="0.6" />
<line x1="376.20" y1="273.56" x2="377.60" y2="273.56" stroke="#777" stroke-width="0.6" />
<line x1="376.20" y1="269.05" x2="377.60" y2="269.05" stroke="#777" stroke-width="0.6" />
<line x1="376.20" y1="264.53" x2="377.60" y2="264.53" stroke="#777" stroke-width="0.6" />
<line x1="376.20" y1="260.02" x2="377.60" y2="260.02" stroke="#777" stroke-width="0.6" />
<line x1="376.20" y1="255.51" x2="377.60" y2="255.51" stroke="#777" stroke-width="0.6" />
<line x1="376.20" y1="250.99" x2="377.60" y2="250.99" stroke="#777" stroke-width="0.6" />
<line x1="376.20" y1="246.48" x2="377.60" y2="246.48" stroke="#777" stroke-width="0.6" />
<line x1="376.20" y1="241.97" x2="377.60" y2="241.97" stroke="#777" stroke-width="0.6" />
<line x1="376.20" y1="237.45" x2="377.60" y2="237.45" stroke="#777" stroke-width="0.6" />
<line x1="376.20" y1="232.94" x2="377.60" y2="232.94" stroke="#777" stroke-width="0.6" />
<line x1="376.20" y1="228.43" x2="377.60" y2="228.43" stroke="#777" stroke-width="0.6" />
<line x1="376.20" y1="223.91" x2="377.60" y2="223.91" stroke="#777" stroke-width="0.6" />
<line x1="376.20" y1="219.40" x2="377.60" y2="219.40" stroke="#777" stroke-width="0.6" />
<line x1="377.60" y1="287.10" x2="377.60" y2="289.70" stroke="#111" stroke-width="1" />
<text x="377.60" y="298.00" font-size="9.0" text-anchor="middle" font-weight="normal" fill="#000" stroke="#000" stroke-width="0.22">0</text>
<line x1="398.30" y1="287.10" x2="398.30" y2="289.70" stroke="#111" stroke-width="1" />
<text x="398.30" y="298.00" font-size="9.0" text-anchor="middle" font-weight="normal" fill="#000" stroke="#000" stroke-width="0.22">10</text>
<line x1="419.00" y1="287.10" x2="419.00" y2="289.70" stroke="#111" stroke-width="1" />
<text x="419.00" y="298.00" font-size="9.0" text-anchor="middle" font-weight="normal" fill="#000" stroke="#000" stroke-width="0.22">20</text>
<line x1="434.50" y1="287.10" x2="434.50" y2="289.70" stroke="#111" stroke-width="1" />
<text x="434.50" y="298.00" font-size="8.2" text-anchor="middle" font-weight="normal" fill="#000" stroke="#000" stroke-width="0.22">50</text>
<line x1="452.80" y1="287.10" x2="452.80" y2="289.70" stroke="#111" stroke-width="1" />
<text x="452.50" y="298.00" font-size="8.2" text-anchor="middle" font-weight="normal" fill="#000" stroke="#000" stroke-width="0.22">100</text>
<line x1="471.10" y1="287.10" x2="471.10" y2="289.70" stroke="#111" stroke-width="1" />
<text x="470.80" y="298.00" font-size="8.2" text-anchor="middle" font-weight="normal" fill="#000" stroke="#000" stroke-width="0.22">150</text>
<line x1="489.40" y1="287.10" x2="489.40" y2="289.70" stroke="#111" stroke-width="1" />
<text x="489.10" y="298.00" font-size="8.2" text-anchor="middle" font-weight="normal" fill="#000" stroke="#000" stroke-width="0.22">200</text>
<line x1="387.95" y1="287.10" x2="387.95" y2="288.60" stroke="#444" stroke-width="0.7" />
<line x1="408.65" y1="287.10" x2="408.65" y2="288.60" stroke="#444" stroke-width="0.7" />
<line x1="429.35" y1="287.10" x2="429.35" y2="288.60" stroke="#444" stroke-width="0.7" />
<line x1="443.65" y1="287.10" x2="443.65" y2="288.60" stroke="#444" stroke-width="0.7" />
<line x1="461.95" y1="287.10" x2="461.95" y2="288.60" stroke="#444" stroke-width="0.7" />
<line x1="480.25" y1="287.10" x2="480.25" y2="288.60" stroke="#444" stroke-width="0.7" />
<polyline points="377.6,286.9 452.8,286.5 489.4,285.7" fill="none" stroke="#000" stroke-width="0.9"/>
<line x1="379.67" y1="242.87" x2="379.67" y2="252.35" stroke="#111" stroke-width="1.0" />
<line x1="377.17" y1="242.87" x2="382.17" y2="242.87" stroke="#111" stroke-width="1.0" />
<line x1="377.17" y1="252.35" x2="382.17" y2="252.35" stroke="#111" stroke-width="1.0" />
<line x1="387.95" y1="239.20" x2="387.95" y2="248.80" stroke="#111" stroke-width="1.0" />
<line x1="385.15" y1="239.20" x2="390.75" y2="239.20" stroke="#111" stroke-width="1.0" />
<line x1="385.15" y1="248.80" x2="390.75" y2="248.80" stroke="#111" stroke-width="1.0" />
<line x1="398.30" y1="236.60" x2="398.30" y2="247.70" stroke="#111" stroke-width="1.0" />
<line x1="395.50" y1="236.60" x2="401.10" y2="236.60" stroke="#111" stroke-width="1.0" />
<line x1="395.50" y1="247.70" x2="401.10" y2="247.70" stroke="#111" stroke-width="1.0" />
<line x1="429.70" y1="233.80" x2="429.70" y2="246.70" stroke="#111" stroke-width="1.0" />
<line x1="426.90" y1="233.80" x2="432.50" y2="233.80" stroke="#111" stroke-width="1.0" />
<line x1="426.90" y1="246.70" x2="432.50" y2="246.70" stroke="#111" stroke-width="1.0" />
<line x1="434.70" y1="226.00" x2="434.70" y2="245.60" stroke="#111" stroke-width="1.0" />
<line x1="431.90" y1="226.00" x2="437.50" y2="226.00" stroke="#111" stroke-width="1.0" />
<line x1="431.90" y1="245.60" x2="437.50" y2="245.60" stroke="#111" stroke-width="1.0" />
<line x1="452.80" y1="240.30" x2="452.80" y2="251.00" stroke="#111" stroke-width="1.0" />
<line x1="450.00" y1="240.30" x2="455.60" y2="240.30" stroke="#111" stroke-width="1.0" />
<line x1="450.00" y1="251.00" x2="455.60" y2="251.00" stroke="#111" stroke-width="1.0" />
<line x1="489.40" y1="233.80" x2="489.40" y2="253.50" stroke="#111" stroke-width="1.0" />
<line x1="486.60" y1="233.80" x2="492.20" y2="233.80" stroke="#111" stroke-width="1.0" />
<line x1="486.60" y1="253.50" x2="492.20" y2="253.50" stroke="#111" stroke-width="1.0" />
<line x1="387.95" y1="266.30" x2="387.95" y2="275.50" stroke="#111" stroke-width="1.0" />
<line x1="385.15" y1="266.30" x2="390.75" y2="266.30" stroke="#111" stroke-width="1.0" />
<line x1="385.15" y1="275.50" x2="390.75" y2="275.50" stroke="#111" stroke-width="1.0" />
<line x1="398.30" y1="265.30" x2="398.30" y2="273.40" stroke="#111" stroke-width="1.0" />
<line x1="395.50" y1="265.30" x2="401.10" y2="265.30" stroke="#111" stroke-width="1.0" />
<line x1="395.50" y1="273.40" x2="401.10" y2="273.40" stroke="#111" stroke-width="1.0" />
<line x1="429.70" y1="257.40" x2="429.70" y2="266.50" stroke="#111" stroke-width="1.0" />
<line x1="426.90" y1="257.40" x2="432.50" y2="257.40" stroke="#111" stroke-width="1.0" />
<line x1="426.90" y1="266.50" x2="432.50" y2="266.50" stroke="#111" stroke-width="1.0" />
<line x1="434.70" y1="248.80" x2="434.70" y2="258.40" stroke="#111" stroke-width="1.0" />
<line x1="431.90" y1="248.80" x2="437.50" y2="248.80" stroke="#111" stroke-width="1.0" />
<line x1="431.90" y1="258.40" x2="437.50" y2="258.40" stroke="#111" stroke-width="1.0" />
<line x1="452.80" y1="253.70" x2="452.80" y2="261.60" stroke="#111" stroke-width="1.0" />
<line x1="450.00" y1="253.70" x2="455.60" y2="253.70" stroke="#111" stroke-width="1.0" />
<line x1="450.00" y1="261.60" x2="455.60" y2="261.60" stroke="#111" stroke-width="1.0" />
<line x1="489.40" y1="243.00" x2="489.40" y2="258.00" stroke="#111" stroke-width="1.0" />
<line x1="486.60" y1="243.00" x2="492.20" y2="243.00" stroke="#111" stroke-width="1.0" />
<line x1="486.60" y1="258.00" x2="492.20" y2="258.00" stroke="#111" stroke-width="1.0" />
<circle cx="377.80" cy="263.40" r="2.3" fill="#fff" stroke="#000" stroke-width="1.05"/>
<circle cx="380.40" cy="247.70" r="2.3" fill="#fff" stroke="#000" stroke-width="1.05"/>
<circle cx="387.95" cy="244.10" r="2.3" fill="#fff" stroke="#000" stroke-width="1.05"/>
<circle cx="398.30" cy="243.00" r="2.3" fill="#fff" stroke="#000" stroke-width="1.05"/>
<circle cx="429.70" cy="240.30" r="2.3" fill="#fff" stroke="#000" stroke-width="1.05"/>
<circle cx="434.70" cy="235.60" r="2.3" fill="#fff" stroke="#000" stroke-width="1.05"/>
<circle cx="452.80" cy="245.60" r="2.3" fill="#fff" stroke="#000" stroke-width="1.05"/>
<circle cx="489.40" cy="243.50" r="2.3" fill="#fff" stroke="#000" stroke-width="1.05"/>
<circle cx="378.40" cy="286.20" r="2.65" fill="#000"/>
<circle cx="378.00" cy="283.20" r="2.65" fill="#000"/>
<circle cx="378.00" cy="278.40" r="2.65" fill="#000"/>
<circle cx="379.60" cy="280.60" r="2.65" fill="#000"/>
<circle cx="380.80" cy="277.40" r="2.65" fill="#000"/>
<circle cx="387.95" cy="271.20" r="2.65" fill="#000"/>
<circle cx="398.30" cy="269.10" r="2.65" fill="#000"/>
<circle cx="429.70" cy="261.60" r="2.65" fill="#000"/>
<circle cx="434.70" cy="253.10" r="2.65" fill="#000"/>
<circle cx="452.80" cy="257.40" r="2.65" fill="#000"/>
<circle cx="489.40" cy="250.50" r="2.65" fill="#000"/>
<path d="M375.90,287.10 L378.00,285.00 L380.10,287.10 L378.00,289.20 Z" fill="#777" stroke="#000" stroke-width="1.1"/>
<path d="M378.90,287.10 L381.00,285.00 L383.10,287.10 L381.00,289.20 Z" fill="#777" stroke="#000" stroke-width="1.1"/>
<path d="M385.85,287.10 L387.95,285.00 L390.05,287.10 L387.95,289.20 Z" fill="#777" stroke="#000" stroke-width="1.1"/>
<path d="M396.20,287.10 L398.30,285.00 L400.40,287.10 L398.30,289.20 Z" fill="#777" stroke="#000" stroke-width="1.1"/>
<path d="M427.60,286.90 L429.70,284.80 L431.80,286.90 L429.70,289.00 Z" fill="#777" stroke="#000" stroke-width="1.1"/>
<path d="M432.60,286.80 L434.70,284.70 L436.80,286.80 L434.70,288.90 Z" fill="#777" stroke="#000" stroke-width="1.1"/>
<path d="M450.70,286.50 L452.80,284.40 L454.90,286.50 L452.80,288.60 Z" fill="#777" stroke="#000" stroke-width="1.1"/>
<path d="M487.30,285.80 L489.40,283.70 L491.50,285.80 L489.40,287.90 Z" fill="#777" stroke="#000" stroke-width="1.1"/>
<polyline points="377.60,263.63 378.01,259.12 378.43,255.06 378.84,251.90 379.26,249.64 379.67,248.06 380.71,246.03 381.74,244.90 383.81,243.55 385.88,242.87 387.95,242.42 392.09,241.97 398.30,241.74 408.65,241.52 419.00,241.52 429.35,241.43 434.50,241.29 452.80,241.29 489.40,241.29" fill="none" stroke="#000" stroke-width="1.05"/>
<polyline points="377.60,287.10 378.64,284.75 379.67,282.70 380.71,280.89 381.74,279.28 382.78,277.84 383.81,276.54 384.85,275.37 385.88,274.30 386.92,273.32 387.95,272.43 388.99,271.61 390.02,270.85 391.06,270.15 392.09,269.50 393.12,268.89 394.16,268.32 395.20,267.79 396.23,267.30 397.27,266.83 398.30,266.39 399.34,265.98 400.37,265.59 401.41,265.22 402.44,264.87 403.48,264.53 404.51,264.22 405.55,263.92 406.58,263.63 407.62,263.36 408.65,263.10 409.69,262.85 410.72,262.61 411.75,262.38 412.79,262.16 413.83,261.95 414.86,261.75 415.90,261.56 416.93,261.37 417.97,261.20 419.00,261.02 420.04,260.86 421.07,260.70 422.11,260.54 423.14,260.39 424.18,260.25 425.21,260.11 426.25,259.98 427.28,259.85 428.31,259.72 429.35,259.60 434.50,256.22 443.65,254.90 452.80,254.20 471.10,253.47 489.40,253.09" fill="none" stroke="#000" stroke-width="1.05"/>
<text x="432.20" y="314.40" font-size="9.6" text-anchor="middle" font-weight="normal" fill="#000" stroke="#000" stroke-width="0.22">FVIIa (nM)</text>
<text transform="translate(348.70,250.60) rotate(-90)" font-size="9.2" text-anchor="middle" fill="#000" stroke="#000" stroke-width="0.22">FXa generated</text>
<text transform="translate(358.90,249.40) rotate(-90)" font-size="9.8" text-anchor="middle" fill="#000" stroke="#000" stroke-width="0.22">(nM/min)</text>
<line x1="69.90" y1="394.00" x2="122.90" y2="394.00" stroke="#555" stroke-width="0.9" />
<line x1="122.90" y1="394.00" x2="122.90" y2="460.10" stroke="#777" stroke-width="0.9" />
<line x1="69.90" y1="393.55" x2="69.90" y2="460.60" stroke="#444" stroke-width="0.9" />
<line x1="69.45" y1="460.10" x2="123.35" y2="460.10" stroke="#000" stroke-width="1.0" />
<line x1="67.50" y1="460.10" x2="69.90" y2="460.10" stroke="#222" stroke-width="1" />
<text x="68.20" y="463.48" font-size="9.4" text-anchor="end" font-weight="normal" fill="#000" stroke="#000" stroke-width="0.22">0.0</text>
<line x1="67.50" y1="446.88" x2="69.90" y2="446.88" stroke="#222" stroke-width="1" />
<text x="68.20" y="450.26" font-size="9.4" text-anchor="end" font-weight="normal" fill="#000" stroke="#000" stroke-width="0.22">0.5</text>
<line x1="67.50" y1="433.66" x2="69.90" y2="433.66" stroke="#222" stroke-width="1" />
<text x="68.20" y="437.04" font-size="9.4" text-anchor="end" font-weight="normal" fill="#000" stroke="#000" stroke-width="0.22">1.0</text>
<line x1="67.50" y1="420.44" x2="69.90" y2="420.44" stroke="#222" stroke-width="1" />
<text x="68.20" y="423.82" font-size="9.4" text-anchor="end" font-weight="normal" fill="#000" stroke="#000" stroke-width="0.22">1.5</text>
<line x1="67.50" y1="407.22" x2="69.90" y2="407.22" stroke="#222" stroke-width="1" />
<text x="68.20" y="410.60" font-size="9.4" text-anchor="end" font-weight="normal" fill="#000" stroke="#000" stroke-width="0.22">2.0</text>
<line x1="67.50" y1="394.00" x2="69.90" y2="394.00" stroke="#222" stroke-width="1" />
<text x="68.20" y="397.38" font-size="9.4" text-anchor="end" font-weight="normal" fill="#000" stroke="#000" stroke-width="0.22">2.5</text>
<line x1="68.50" y1="460.10" x2="69.90" y2="460.10" stroke="#777" stroke-width="0.6" />
<line x1="68.50" y1="457.46" x2="69.90" y2="457.46" stroke="#777" stroke-width="0.6" />
<line x1="68.50" y1="454.81" x2="69.90" y2="454.81" stroke="#777" stroke-width="0.6" />
<line x1="68.50" y1="452.17" x2="69.90" y2="452.17" stroke="#777" stroke-width="0.6" />
<line x1="68.50" y1="449.52" x2="69.90" y2="449.52" stroke="#777" stroke-width="0.6" />
<line x1="68.50" y1="446.88" x2="69.90" y2="446.88" stroke="#777" stroke-width="0.6" />
<line x1="68.50" y1="444.24" x2="69.90" y2="444.24" stroke="#777" stroke-width="0.6" />
<line x1="68.50" y1="441.59" x2="69.90" y2="441.59" stroke="#777" stroke-width="0.6" />
<line x1="68.50" y1="438.95" x2="69.90" y2="438.95" stroke="#777" stroke-width="0.6" />
<line x1="68.50" y1="436.30" x2="69.90" y2="436.30" stroke="#777" stroke-width="0.6" />
<line x1="68.50" y1="433.66" x2="69.90" y2="433.66" stroke="#777" stroke-width="0.6" />
<line x1="68.50" y1="431.02" x2="69.90" y2="431.02" stroke="#777" stroke-width="0.6" />
<line x1="68.50" y1="428.37" x2="69.90" y2="428.37" stroke="#777" stroke-width="0.6" />
<line x1="68.50" y1="425.73" x2="69.90" y2="425.73" stroke="#777" stroke-width="0.6" />
<line x1="68.50" y1="423.08" x2="69.90" y2="423.08" stroke="#777" stroke-width="0.6" />
<line x1="68.50" y1="420.44" x2="69.90" y2="420.44" stroke="#777" stroke-width="0.6" />
<line x1="68.50" y1="417.80" x2="69.90" y2="417.80" stroke="#777" stroke-width="0.6" />
<line x1="68.50" y1="415.15" x2="69.90" y2="415.15" stroke="#777" stroke-width="0.6" />
<line x1="68.50" y1="412.51" x2="69.90" y2="412.51" stroke="#777" stroke-width="0.6" />
<line x1="68.50" y1="409.86" x2="69.90" y2="409.86" stroke="#777" stroke-width="0.6" />
<line x1="68.50" y1="407.22" x2="69.90" y2="407.22" stroke="#777" stroke-width="0.6" />
<line x1="68.50" y1="404.58" x2="69.90" y2="404.58" stroke="#777" stroke-width="0.6" />
<line x1="68.50" y1="401.93" x2="69.90" y2="401.93" stroke="#777" stroke-width="0.6" />
<line x1="68.50" y1="399.29" x2="69.90" y2="399.29" stroke="#777" stroke-width="0.6" />
<line x1="68.50" y1="396.64" x2="69.90" y2="396.64" stroke="#777" stroke-width="0.6" />
<line x1="68.50" y1="394.00" x2="69.90" y2="394.00" stroke="#777" stroke-width="0.6" />
<rect x="74.60" y="420.70" width="18.10" height="39.40" fill="#000" />
<line x1="83.65" y1="412.77" x2="83.65" y2="420.70" stroke="#222" stroke-width="1.0" />
<line x1="79.40" y1="412.77" x2="87.90" y2="412.77" stroke="#222" stroke-width="1.0" />
<line x1="83.65" y1="460.10" x2="83.65" y2="462.50" stroke="#000" stroke-width="1" />
<rect x="100.20" y="422.82" width="18.70" height="37.28" fill="#000" />
<line x1="109.55" y1="404.84" x2="109.55" y2="422.82" stroke="#222" stroke-width="1.0" />
<line x1="105.30" y1="404.84" x2="113.80" y2="404.84" stroke="#222" stroke-width="1.0" />
<line x1="109.55" y1="460.10" x2="109.55" y2="462.50" stroke="#000" stroke-width="1" />
<text transform="translate(87.00,462.90) rotate(-90)" font-size="8.6" text-anchor="end" fill="#000" stroke="#000" stroke-width="0.22">WT TF</text>
<text transform="translate(112.70,462.40) rotate(-90)" font-size="8.6" text-anchor="end" fill="#000" stroke="#000" stroke-width="0.22">TF<tspan font-size="6.5" dy="3.4" dx="1.6" stroke-width="0.1">C186S/C209S</tspan></text>
<text transform="translate(37.20,425.40) rotate(-90)" font-size="9" text-anchor="middle" fill="#000" stroke="#000" stroke-width="0.22">FXa generated</text>
<text transform="translate(47.90,426.40) rotate(-90)" font-size="9.7" text-anchor="middle" fill="#000" stroke="#000" stroke-width="0.22">(nM/min)</text>
<line x1="217.40" y1="393.80" x2="320.10" y2="393.80" stroke="#555" stroke-width="0.9" />
<line x1="320.10" y1="393.80" x2="320.10" y2="461.50" stroke="#555" stroke-width="0.9" />
<line x1="217.40" y1="393.35" x2="217.40" y2="462.00" stroke="#111" stroke-width="0.9" />
<line x1="216.95" y1="461.50" x2="320.55" y2="461.50" stroke="#000" stroke-width="1.0" />
<line x1="215.00" y1="461.50" x2="217.40" y2="461.50" stroke="#222" stroke-width="1" />
<text x="215.20" y="464.96" font-size="9.6" text-anchor="end" font-weight="normal" fill="#000" stroke="#000" stroke-width="0.22">0.0</text>
<line x1="215.00" y1="447.96" x2="217.40" y2="447.96" stroke="#222" stroke-width="1" />
<text x="215.20" y="451.42" font-size="9.6" text-anchor="end" font-weight="normal" fill="#000" stroke="#000" stroke-width="0.22">2.5</text>
<line x1="215.00" y1="434.42" x2="217.40" y2="434.42" stroke="#222" stroke-width="1" />
<text x="215.20" y="437.88" font-size="9.6" text-anchor="end" font-weight="normal" fill="#000" stroke="#000" stroke-width="0.22">5.0</text>
<line x1="215.00" y1="420.88" x2="217.40" y2="420.88" stroke="#222" stroke-width="1" />
<text x="215.20" y="424.34" font-size="9.6" text-anchor="end" font-weight="normal" fill="#000" stroke="#000" stroke-width="0.22">7.5</text>
<line x1="215.00" y1="407.34" x2="217.40" y2="407.34" stroke="#222" stroke-width="1" />
<text x="215.20" y="410.80" font-size="9.6" text-anchor="end" font-weight="normal" fill="#000" stroke="#000" stroke-width="0.22">10.0</text>
<line x1="215.00" y1="393.80" x2="217.40" y2="393.80" stroke="#222" stroke-width="1" />
<text x="215.20" y="397.26" font-size="9.6" text-anchor="end" font-weight="normal" fill="#000" stroke="#000" stroke-width="0.22">12.5</text>
<line x1="216.00" y1="461.50" x2="217.40" y2="461.50" stroke="#777" stroke-width="0.6" />
<line x1="216.00" y1="458.79" x2="217.40" y2="458.79" stroke="#777" stroke-width="0.6" />
<line x1="216.00" y1="456.08" x2="217.40" y2="456.08" stroke="#777" stroke-width="0.6" />
<line x1="216.00" y1="453.38" x2="217.40" y2="453.38" stroke="#777" stroke-width="0.6" />
<line x1="216.00" y1="450.67" x2="217.40" y2="450.67" stroke="#777" stroke-width="0.6" />
<line x1="216.00" y1="447.96" x2="217.40" y2="447.96" stroke="#777" stroke-width="0.6" />
<line x1="216.00" y1="445.25" x2="217.40" y2="445.25" stroke="#777" stroke-width="0.6" />
<line x1="216.00" y1="442.54" x2="217.40" y2="442.54" stroke="#777" stroke-width="0.6" />
<line x1="216.00" y1="439.84" x2="217.40" y2="439.84" stroke="#777" stroke-width="0.6" />
<line x1="216.00" y1="437.13" x2="217.40" y2="437.13" stroke="#777" stroke-width="0.6" />
<line x1="216.00" y1="434.42" x2="217.40" y2="434.42" stroke="#777" stroke-width="0.6" />
<line x1="216.00" y1="431.71" x2="217.40" y2="431.71" stroke="#777" stroke-width="0.6" />
<line x1="216.00" y1="429.00" x2="217.40" y2="429.00" stroke="#777" stroke-width="0.6" />
<line x1="216.00" y1="426.30" x2="217.40" y2="426.30" stroke="#777" stroke-width="0.6" />
<line x1="216.00" y1="423.59" x2="217.40" y2="423.59" stroke="#777" stroke-width="0.6" />
<line x1="216.00" y1="420.88" x2="217.40" y2="420.88" stroke="#777" stroke-width="0.6" />
<line x1="216.00" y1="418.17" x2="217.40" y2="418.17" stroke="#777" stroke-width="0.6" />
<line x1="216.00" y1="415.46" x2="217.40" y2="415.46" stroke="#777" stroke-width="0.6" />
<line x1="216.00" y1="412.76" x2="217.40" y2="412.76" stroke="#777" stroke-width="0.6" />
<line x1="216.00" y1="410.05" x2="217.40" y2="410.05" stroke="#777" stroke-width="0.6" />
<line x1="216.00" y1="407.34" x2="217.40" y2="407.34" stroke="#777" stroke-width="0.6" />
<line x1="216.00" y1="404.63" x2="217.40" y2="404.63" stroke="#777" stroke-width="0.6" />
<line x1="216.00" y1="401.92" x2="217.40" y2="401.92" stroke="#777" stroke-width="0.6" />
<line x1="216.00" y1="399.22" x2="217.40" y2="399.22" stroke="#777" stroke-width="0.6" />
<line x1="216.00" y1="396.51" x2="217.40" y2="396.51" stroke="#777" stroke-width="0.6" />
<line x1="216.00" y1="393.80" x2="217.40" y2="393.80" stroke="#777" stroke-width="0.6" />
<line x1="217.40" y1="461.50" x2="217.40" y2="464.10" stroke="#111" stroke-width="1" />
<text x="217.40" y="472.10" font-size="9.2" text-anchor="middle" font-weight="normal" fill="#000" stroke="#000" stroke-width="0.22">0.0</text>
<line x1="243.08" y1="461.50" x2="243.08" y2="464.10" stroke="#111" stroke-width="1" />
<text x="243.08" y="472.10" font-size="9.2" text-anchor="middle" font-weight="normal" fill="#000" stroke="#000" stroke-width="0.22">0.5</text>
<line x1="268.75" y1="461.50" x2="268.75" y2="464.10" stroke="#111" stroke-width="1" />
<text x="268.75" y="472.10" font-size="9.2" text-anchor="middle" font-weight="normal" fill="#000" stroke="#000" stroke-width="0.22">1.0</text>
<line x1="294.43" y1="461.50" x2="294.43" y2="464.10" stroke="#111" stroke-width="1" />
<text x="294.43" y="472.10" font-size="9.2" text-anchor="middle" font-weight="normal" fill="#000" stroke="#000" stroke-width="0.22">1.5</text>
<line x1="320.10" y1="461.50" x2="320.10" y2="464.10" stroke="#111" stroke-width="1" />
<text x="320.60" y="472.10" font-size="9.2" text-anchor="middle" font-weight="normal" fill="#000" stroke="#000" stroke-width="0.22">2.0</text>
<line x1="217.40" y1="461.50" x2="217.40" y2="463.00" stroke="#444" stroke-width="0.7" />
<line x1="222.53" y1="461.50" x2="222.53" y2="463.00" stroke="#444" stroke-width="0.7" />
<line x1="227.67" y1="461.50" x2="227.67" y2="463.00" stroke="#444" stroke-width="0.7" />
<line x1="232.81" y1="461.50" x2="232.81" y2="463.00" stroke="#444" stroke-width="0.7" />
<line x1="237.94" y1="461.50" x2="237.94" y2="463.00" stroke="#444" stroke-width="0.7" />
<line x1="243.08" y1="461.50" x2="243.08" y2="463.00" stroke="#444" stroke-width="0.7" />
<line x1="248.21" y1="461.50" x2="248.21" y2="463.00" stroke="#444" stroke-width="0.7" />
<line x1="253.35" y1="461.50" x2="253.35" y2="463.00" stroke="#444" stroke-width="0.7" />
<line x1="258.48" y1="461.50" x2="258.48" y2="463.00" stroke="#444" stroke-width="0.7" />
<line x1="263.62" y1="461.50" x2="263.62" y2="463.00" stroke="#444" stroke-width="0.7" />
<line x1="268.75" y1="461.50" x2="268.75" y2="463.00" stroke="#444" stroke-width="0.7" />
<line x1="273.88" y1="461.50" x2="273.88" y2="463.00" stroke="#444" stroke-width="0.7" />
<line x1="279.02" y1="461.50" x2="279.02" y2="463.00" stroke="#444" stroke-width="0.7" />
<line x1="284.16" y1="461.50" x2="284.16" y2="463.00" stroke="#444" stroke-width="0.7" />
<line x1="289.29" y1="461.50" x2="289.29" y2="463.00" stroke="#444" stroke-width="0.7" />
<line x1="294.43" y1="461.50" x2="294.43" y2="463.00" stroke="#444" stroke-width="0.7" />
<line x1="299.56" y1="461.50" x2="299.56" y2="463.00" stroke="#444" stroke-width="0.7" />
<line x1="304.70" y1="461.50" x2="304.70" y2="463.00" stroke="#444" stroke-width="0.7" />
<line x1="309.83" y1="461.50" x2="309.83" y2="463.00" stroke="#444" stroke-width="0.7" />
<line x1="314.97" y1="461.50" x2="314.97" y2="463.00" stroke="#444" stroke-width="0.7" />
<line x1="320.10" y1="461.50" x2="320.10" y2="463.00" stroke="#444" stroke-width="0.7" />
<line x1="268.75" y1="403.80" x2="268.75" y2="413.50" stroke="#111" stroke-width="1.0" />
<line x1="265.75" y1="403.80" x2="271.75" y2="403.80" stroke="#111" stroke-width="1.0" />
<line x1="265.75" y1="413.50" x2="271.75" y2="413.50" stroke="#111" stroke-width="1.0" />
<line x1="230.24" y1="438.60" x2="230.24" y2="442.00" stroke="#111" stroke-width="1.0" />
<line x1="227.74" y1="438.60" x2="232.74" y2="438.60" stroke="#111" stroke-width="1.0" />
<line x1="227.74" y1="442.00" x2="232.74" y2="442.00" stroke="#111" stroke-width="1.0" />
<line x1="243.08" y1="440.40" x2="243.08" y2="445.80" stroke="#111" stroke-width="1.0" />
<line x1="240.08" y1="440.40" x2="246.08" y2="440.40" stroke="#111" stroke-width="1.0" />
<line x1="240.08" y1="445.80" x2="246.08" y2="445.80" stroke="#111" stroke-width="1.0" />
<line x1="268.75" y1="417.30" x2="268.75" y2="433.10" stroke="#111" stroke-width="1.0" />
<line x1="265.75" y1="417.30" x2="271.75" y2="417.30" stroke="#111" stroke-width="1.0" />
<line x1="265.75" y1="433.10" x2="271.75" y2="433.10" stroke="#111" stroke-width="1.0" />
<line x1="294.43" y1="413.50" x2="294.43" y2="426.30" stroke="#111" stroke-width="1.0" />
<line x1="291.43" y1="413.50" x2="297.43" y2="413.50" stroke="#111" stroke-width="1.0" />
<line x1="291.43" y1="426.30" x2="297.43" y2="426.30" stroke="#111" stroke-width="1.0" />
<line x1="320.10" y1="414.50" x2="320.10" y2="429.50" stroke="#111" stroke-width="1.0" />
<line x1="317.10" y1="414.50" x2="323.10" y2="414.50" stroke="#111" stroke-width="1.0" />
<line x1="317.10" y1="429.50" x2="323.10" y2="429.50" stroke="#111" stroke-width="1.0" />
<circle cx="219.40" cy="455.20" r="2.4" fill="#fff" stroke="#000" stroke-width="1.05"/>
<circle cx="221.20" cy="452.60" r="2.4" fill="#fff" stroke="#000" stroke-width="1.05"/>
<circle cx="223.00" cy="449.80" r="2.4" fill="#fff" stroke="#000" stroke-width="1.05"/>
<circle cx="229.90" cy="440.20" r="2.4" fill="#fff" stroke="#000" stroke-width="1.05"/>
<circle cx="243.10" cy="425.20" r="2.4" fill="#fff" stroke="#000" stroke-width="1.05"/>
<circle cx="268.75" cy="409.20" r="2.4" fill="#fff" stroke="#000" stroke-width="1.05"/>
<circle cx="294.43" cy="400.20" r="2.4" fill="#fff" stroke="#000" stroke-width="1.05"/>
<rect x="317.80" y="405.40" width="4.6" height="4.6" fill="#fff" stroke="#000" stroke-width="1"/>
<line x1="320.10" y1="405.00" x2="320.10" y2="410.40" stroke="#555" stroke-width="0.9" />
<circle cx="218.40" cy="459.60" r="2.65" fill="#000"/>
<circle cx="219.60" cy="458.00" r="2.65" fill="#000"/>
<circle cx="221.20" cy="456.40" r="2.65" fill="#000"/>
<circle cx="223.00" cy="456.00" r="2.65" fill="#000"/>
<circle cx="229.90" cy="450.20" r="2.65" fill="#000"/>
<circle cx="243.10" cy="443.00" r="2.65" fill="#000"/>
<circle cx="268.75" cy="425.60" r="2.65" fill="#000"/>
<circle cx="294.43" cy="420.30" r="2.65" fill="#000"/>
<circle cx="320.10" cy="421.60" r="2.65" fill="#000"/>
<polyline points="217.40,459.33 218.43,456.85 219.45,454.53 220.48,452.34 221.51,450.29 222.53,448.35 223.56,446.52 224.59,444.78 225.62,443.14 226.64,441.59 227.67,440.11 228.70,438.70 229.72,437.36 230.75,436.08 231.78,434.86 232.81,433.70 233.83,432.58 234.86,431.52 235.89,430.49 236.91,429.51 237.94,428.57 238.97,427.67 239.99,426.80 241.02,425.96 242.05,425.15 243.08,424.38 245.64,422.55 248.21,420.88 250.78,419.34 253.34,417.92 255.91,416.61 258.48,415.39 261.05,414.25 263.62,413.19 266.18,412.20 268.75,411.27 271.32,410.39 273.88,409.57 276.45,408.79 279.02,408.06 281.59,407.37 284.16,406.71 286.72,406.09 289.29,405.50 291.86,404.94 294.43,404.40 296.99,403.89 299.56,403.40 302.13,402.93 304.70,402.49 307.26,402.06 309.83,401.65 312.40,401.26 314.97,400.88 317.53,400.52 320.10,400.17" fill="none" stroke="#000" stroke-width="1.05"/>
<polyline points="217.40,459.88 218.43,458.75 219.45,457.67 220.48,456.63 221.51,455.61 222.53,454.63 223.56,453.69 224.59,452.77 225.62,451.88 226.64,451.01 227.67,450.17 228.70,449.36 229.72,448.57 230.75,447.81 231.78,447.06 232.81,446.34 233.83,445.63 234.86,444.94 235.89,444.28 236.91,443.63 237.94,442.99 238.97,442.38 239.99,441.78 241.02,441.19 242.05,440.62 243.08,440.06 245.64,438.72 248.21,437.46 250.78,436.27 253.34,435.15 255.91,434.08 258.48,433.07 261.05,432.11 263.62,431.20 266.18,430.33 268.75,429.51 271.32,428.71 273.88,427.96 276.45,427.24 279.02,426.55 281.59,425.88 284.16,425.25 286.72,424.64 289.29,424.05 291.86,423.49 294.43,422.95 296.99,422.43 299.56,421.92 302.13,421.44 304.70,420.97 307.26,420.52 309.83,420.08 312.40,419.66 314.97,419.26 317.53,418.86 320.10,418.48" fill="none" stroke="#000" stroke-width="1.05"/>
<text x="268.80" y="487.40" font-size="9.5" text-anchor="middle" font-weight="normal" fill="#000" stroke="#000" stroke-width="0.22">FX (µM)</text>
<text transform="translate(177.90,425.80) rotate(-90)" font-size="9.2" text-anchor="middle" fill="#000" stroke="#000" stroke-width="0.22">FXa generated</text>
<text transform="translate(188.50,424.60) rotate(-90)" font-size="9.8" text-anchor="middle" fill="#000" stroke="#000" stroke-width="0.22">(nM/min)</text>
<line x1="415.10" y1="395.60" x2="518.80" y2="395.60" stroke="#333" stroke-width="0.9" />
<line x1="518.80" y1="395.60" x2="518.80" y2="464.40" stroke="#555" stroke-width="0.9" />
<line x1="415.10" y1="395.15" x2="415.10" y2="464.90" stroke="#222" stroke-width="0.9" />
<line x1="414.65" y1="464.40" x2="519.25" y2="464.40" stroke="#000" stroke-width="1.0" />
<line x1="412.70" y1="464.40" x2="415.10" y2="464.40" stroke="#222" stroke-width="1" />
<text x="411.90" y="467.82" font-size="9.5" text-anchor="end" font-weight="normal" fill="#000" stroke="#000" stroke-width="0.22">0</text>
<line x1="412.70" y1="450.64" x2="415.10" y2="450.64" stroke="#222" stroke-width="1" />
<text x="411.90" y="454.06" font-size="9.5" text-anchor="end" font-weight="normal" fill="#000" stroke="#000" stroke-width="0.22">25</text>
<line x1="412.70" y1="436.88" x2="415.10" y2="436.88" stroke="#222" stroke-width="1" />
<text x="411.90" y="440.30" font-size="9.5" text-anchor="end" font-weight="normal" fill="#000" stroke="#000" stroke-width="0.22">50</text>
<line x1="412.70" y1="423.12" x2="415.10" y2="423.12" stroke="#222" stroke-width="1" />
<text x="411.90" y="426.54" font-size="9.5" text-anchor="end" font-weight="normal" fill="#000" stroke="#000" stroke-width="0.22">75</text>
<line x1="412.70" y1="409.36" x2="415.10" y2="409.36" stroke="#222" stroke-width="1" />
<text x="411.90" y="412.78" font-size="9.5" text-anchor="end" font-weight="normal" fill="#000" stroke="#000" stroke-width="0.22">100</text>
<line x1="412.70" y1="395.60" x2="415.10" y2="395.60" stroke="#222" stroke-width="1" />
<text x="411.90" y="399.02" font-size="9.5" text-anchor="end" font-weight="normal" fill="#000" stroke="#000" stroke-width="0.22">125</text>
<line x1="413.70" y1="464.40" x2="415.10" y2="464.40" stroke="#777" stroke-width="0.6" />
<line x1="413.70" y1="461.65" x2="415.10" y2="461.65" stroke="#777" stroke-width="0.6" />
<line x1="413.70" y1="458.90" x2="415.10" y2="458.90" stroke="#777" stroke-width="0.6" />
<line x1="413.70" y1="456.14" x2="415.10" y2="456.14" stroke="#777" stroke-width="0.6" />
<line x1="413.70" y1="453.39" x2="415.10" y2="453.39" stroke="#777" stroke-width="0.6" />
<line x1="413.70" y1="450.64" x2="415.10" y2="450.64" stroke="#777" stroke-width="0.6" />
<line x1="413.70" y1="447.89" x2="415.10" y2="447.89" stroke="#777" stroke-width="0.6" />
<line x1="413.70" y1="445.14" x2="415.10" y2="445.14" stroke="#777" stroke-width="0.6" />
<line x1="413.70" y1="442.38" x2="415.10" y2="442.38" stroke="#777" stroke-width="0.6" />
<line x1="413.70" y1="439.63" x2="415.10" y2="439.63" stroke="#777" stroke-width="0.6" />
<line x1="413.70" y1="436.88" x2="415.10" y2="436.88" stroke="#777" stroke-width="0.6" />
<line x1="413.70" y1="434.13" x2="415.10" y2="434.13" stroke="#777" stroke-width="0.6" />
<line x1="413.70" y1="431.38" x2="415.10" y2="431.38" stroke="#777" stroke-width="0.6" />
<line x1="413.70" y1="428.62" x2="415.10" y2="428.62" stroke="#777" stroke-width="0.6" />
<line x1="413.70" y1="425.87" x2="415.10" y2="425.87" stroke="#777" stroke-width="0.6" />
<line x1="413.70" y1="423.12" x2="415.10" y2="423.12" stroke="#777" stroke-width="0.6" />
<line x1="413.70" y1="420.37" x2="415.10" y2="420.37" stroke="#777" stroke-width="0.6" />
<line x1="413.70" y1="417.62" x2="415.10" y2="417.62" stroke="#777" stroke-width="0.6" />
<line x1="413.70" y1="414.86" x2="415.10" y2="414.86" stroke="#777" stroke-width="0.6" />
<line x1="413.70" y1="412.11" x2="415.10" y2="412.11" stroke="#777" stroke-width="0.6" />
<line x1="413.70" y1="409.36" x2="415.10" y2="409.36" stroke="#777" stroke-width="0.6" />
<line x1="413.70" y1="406.61" x2="415.10" y2="406.61" stroke="#777" stroke-width="0.6" />
<line x1="413.70" y1="403.86" x2="415.10" y2="403.86" stroke="#777" stroke-width="0.6" />
<line x1="413.70" y1="401.10" x2="415.10" y2="401.10" stroke="#777" stroke-width="0.6" />
<line x1="413.70" y1="398.35" x2="415.10" y2="398.35" stroke="#777" stroke-width="0.6" />
<line x1="413.70" y1="395.60" x2="415.10" y2="395.60" stroke="#777" stroke-width="0.6" />
<rect x="417.30" y="418.72" width="9.00" height="45.68" fill="#000" />
<line x1="421.80" y1="410.63" x2="421.80" y2="418.72" stroke="#222" stroke-width="0.9" />
<line x1="419.40" y1="410.63" x2="424.20" y2="410.63" stroke="#222" stroke-width="0.9" />
<line x1="421.80" y1="464.40" x2="421.80" y2="466.40" stroke="#000" stroke-width="0.9" />
<rect x="430.30" y="429.39" width="9.00" height="35.01" fill="#000" />
<line x1="434.80" y1="424.50" x2="434.80" y2="429.39" stroke="#222" stroke-width="0.9" />
<line x1="432.40" y1="424.50" x2="437.20" y2="424.50" stroke="#222" stroke-width="0.9" />
<line x1="434.80" y1="464.40" x2="434.80" y2="466.40" stroke="#000" stroke-width="0.9" />
<rect x="456.30" y="407.98" width="9.00" height="56.42" fill="#000" />
<line x1="460.80" y1="397.80" x2="460.80" y2="407.98" stroke="#222" stroke-width="0.9" />
<line x1="458.40" y1="397.80" x2="463.20" y2="397.80" stroke="#222" stroke-width="0.9" />
<line x1="460.80" y1="464.40" x2="460.80" y2="466.40" stroke="#000" stroke-width="0.9" />
<rect x="469.30" y="415.96" width="9.00" height="48.44" fill="#000" />
<line x1="473.80" y1="409.08" x2="473.80" y2="415.96" stroke="#222" stroke-width="0.9" />
<line x1="471.40" y1="409.08" x2="476.20" y2="409.08" stroke="#222" stroke-width="0.9" />
<line x1="473.80" y1="464.40" x2="473.80" y2="466.40" stroke="#000" stroke-width="0.9" />
<rect x="495.30" y="434.13" width="9.00" height="30.27" fill="#000" />
<line x1="499.80" y1="431.49" x2="499.80" y2="434.13" stroke="#222" stroke-width="0.9" />
<line x1="497.40" y1="431.49" x2="502.20" y2="431.49" stroke="#222" stroke-width="0.9" />
<line x1="499.80" y1="464.40" x2="499.80" y2="466.40" stroke="#000" stroke-width="0.9" />
<rect x="508.30" y="424.88" width="9.00" height="39.52" fill="#000" />
<line x1="512.80" y1="413.21" x2="512.80" y2="424.88" stroke="#222" stroke-width="0.9" />
<line x1="510.40" y1="413.21" x2="515.20" y2="413.21" stroke="#222" stroke-width="0.9" />
<line x1="512.80" y1="464.40" x2="512.80" y2="466.40" stroke="#000" stroke-width="0.9" />
<text transform="translate(424.70,467.80) rotate(-90)" font-size="9.0" text-anchor="end" fill="#000" stroke="#000" stroke-width="0.22">WT TF</text>
<text transform="translate(438.00,466.30) rotate(-90)" font-size="8.8" text-anchor="end" fill="#000" stroke="#000" stroke-width="0.22">TF<tspan font-size="7.1" dy="2.9" dx="2.3" stroke-width="0.1">C186S/C209S</tspan></text>
<text transform="translate(463.70,467.80) rotate(-90)" font-size="9.0" text-anchor="end" fill="#000" stroke="#000" stroke-width="0.22">WT TF</text>
<text transform="translate(477.00,466.30) rotate(-90)" font-size="8.8" text-anchor="end" fill="#000" stroke="#000" stroke-width="0.22">TF<tspan font-size="7.1" dy="2.9" dx="2.3" stroke-width="0.1">C186S/C209S</tspan></text>
<text transform="translate(502.70,467.80) rotate(-90)" font-size="9.0" text-anchor="end" fill="#000" stroke="#000" stroke-width="0.22">WT TF</text>
<text transform="translate(516.00,466.30) rotate(-90)" font-size="8.8" text-anchor="end" fill="#000" stroke="#000" stroke-width="0.22">TF<tspan font-size="7.1" dy="2.9" dx="2.3" stroke-width="0.1">C186S/C209S</tspan></text>
<line x1="418.20" y1="528.00" x2="441.00" y2="528.00" stroke="#333" stroke-width="1.1" />
<line x1="457.00" y1="528.00" x2="480.80" y2="528.00" stroke="#333" stroke-width="1.1" />
<line x1="497.00" y1="528.00" x2="520.00" y2="528.00" stroke="#333" stroke-width="1.1" />
<text x="429.10" y="537.70" font-size="8.9" text-anchor="middle" font-weight="normal" fill="#000" stroke="#000" stroke-width="0.22">85G9</text>
<text x="469.30" y="537.70" font-size="8.8" text-anchor="middle" font-weight="normal" fill="#000" stroke="#000" stroke-width="0.22">910H10</text>
<text x="507.40" y="537.70" font-size="9.0" text-anchor="middle" font-weight="normal" fill="#000" stroke="#000" stroke-width="0.22">FVIIa</text>
<text transform="translate(377.90,428.20) rotate(-90)" font-size="9.5" text-anchor="middle" fill="#000" stroke="#000" stroke-width="0.22">Specific activity</text>
<text transform="translate(389.10,428.00) rotate(-90)" font-size="9.5" text-anchor="middle" fill="#000" stroke="#000" stroke-width="0.22">(pM FXa/femto mole TF)</text>
</svg>
</body></html>
